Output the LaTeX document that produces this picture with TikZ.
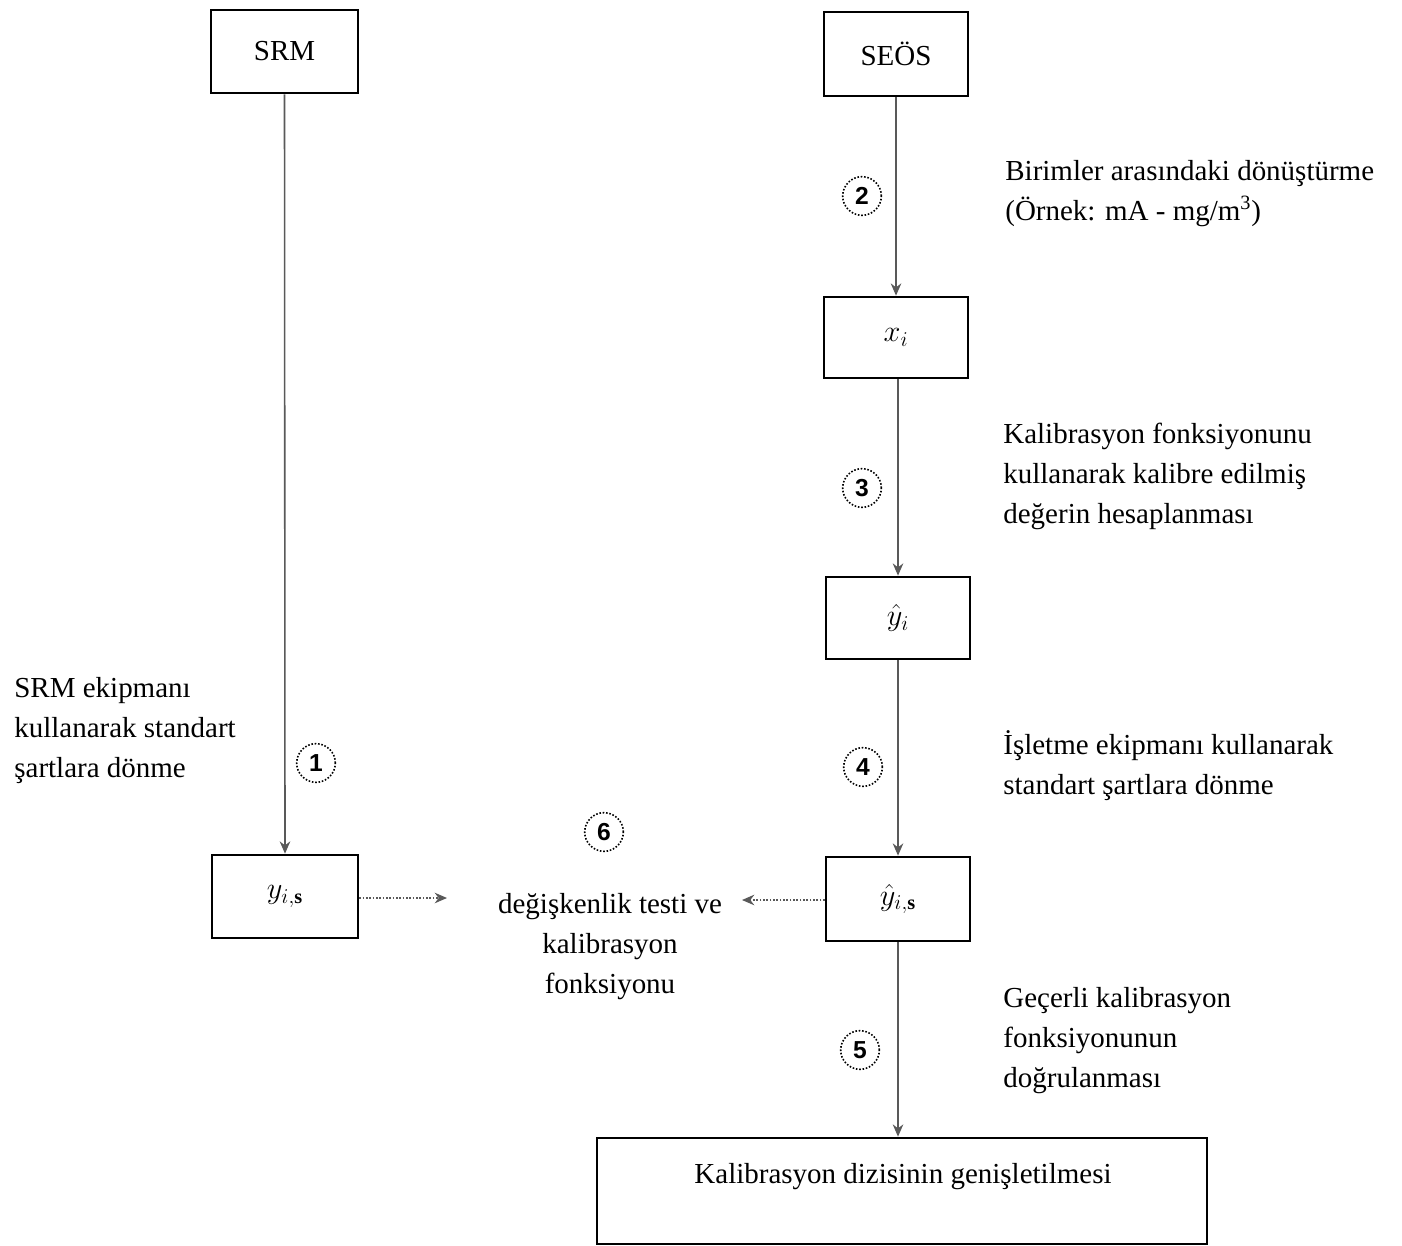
\documentclass[tikz,border=0pt]{standalone}
\usepackage{fontspec}
\setmainfont{Liberation Serif}
\newfontfamily\tms{Liberation Serif}
\newfontfamily\numfont{Liberation Sans}
\usetikzlibrary{arrows.meta}
\begin{document}
\begin{tikzpicture}[x=0.02cm,y=-0.02cm,
  box/.style={draw=black,line width=1.5pt,inner sep=0pt},
  conn/.style={draw=black!65,line width=0.9pt,-{Stealth[length=7pt,width=6pt]}},
  dconn/.style={draw=black!65,line width=0.9pt,densely dotted,-{Stealth[length=7pt,width=6pt]}},
  num/.style={circle,draw=black,densely dotted,line width=0.9pt,minimum size=22pt,inner sep=0pt,font=\numfont\fontsize{14}{16}\selectfont\bfseries},
  lbl/.style={align=left,inner sep=0pt,anchor=north west,font=\tms\fontsize{16.5}{22.7}\selectfont},
  clbl/.style={align=center,inner sep=0pt,anchor=north,font=\tms\fontsize{16.5}{22.7}\selectfont}]
\useasboundingbox (0,0) rectangle (1402,1246);
\fill[white] (0,0) rectangle (1402,1246);
\tikzset{every node/.append style={font=\tms\fontsize{16.5}{22.7}\selectfont}}
% boxes
\node[box,minimum width=147*0.02cm,minimum height=83*0.02cm] (srm) at (284.5,51.5) {SRM};
\node[box,minimum width=144*0.02cm,minimum height=84*0.02cm] (seos) at (896,54) {SEÖS};
\node[box,minimum width=144*0.02cm,minimum height=81*0.02cm] (xi) at (896,337.5) {$x_i$};
\node[box,minimum width=144*0.02cm,minimum height=82*0.02cm] (yhi) at (898,618) {$\hat{y}_i$};
\node[box,minimum width=146*0.02cm,minimum height=83*0.02cm] (yis) at (285,896.5) {$y_{i,\mathbf{s}}$};
\node[box,minimum width=144*0.02cm,minimum height=84*0.02cm] (yhis) at (898,899) {$\hat{y}_{i,\mathbf{s}}$};
\node[box,minimum width=610*0.02cm,minimum height=106*0.02cm] (ext) at (902,1191) {};
\node[inner sep=0pt] (extt) at (903,1177) {Kalibrasyon dizisinin genişletilmesi};
% middle text
\node[clbl] (mid) at (610,893) {değişkenlik testi ve\\kalibrasyon\\fonksiyonu};
\coordinate (midL) at (447,898);
\coordinate (midR) at (742,900);
% connectors
\draw[conn] (srm.south) -- (yis.north);
\draw[conn] (seos.south) -- (xi.north);
\draw[conn] (xi.south -| yhi.north) -- (yhi.north);
\draw[conn] (yhi.south) -- (yhis.north);
\draw[conn] (yhis.south) -- (yhis.south |- ext.north);
\draw[dconn] (yis.east |- midL) -- (midL);
\draw[dconn] (yhis.west |- midR) -- (midR);
% numbers
\node[num] (n1) at (316,763) {1};
\node[num] (n2) at (862,196) {2};
\node[num] (n3) at (862,488) {3};
\node[num] (n4) at (863,767) {4};
\node[num] (n5) at (860,1050) {5};
\node[num] (n6) at (604,832) {6};
% labels
\node[lbl] (l2) at (1005,160) {Birimler arasındaki dönüştürme\\(Örnek: mA - mg/m\textsuperscript{3})};
\node[lbl] (l3) at (1003,423) {Kalibrasyon fonksiyonunu\\kullanarak kalibre edilmiş\\değerin hesaplanması};
\node[lbl] (l4) at (1003,730) {İşletme ekipmanı kullanarak\\standart şartlara dönme};
\node[lbl] (l5) at (1003,987) {Geçerli kalibrasyon\\fonksiyonunun\\doğrulanması};
\node[lbl] (l1) at (14,677) {SRM ekipmanı\\kullanarak standart\\şartlara dönme};
\end{tikzpicture}
\end{document}
